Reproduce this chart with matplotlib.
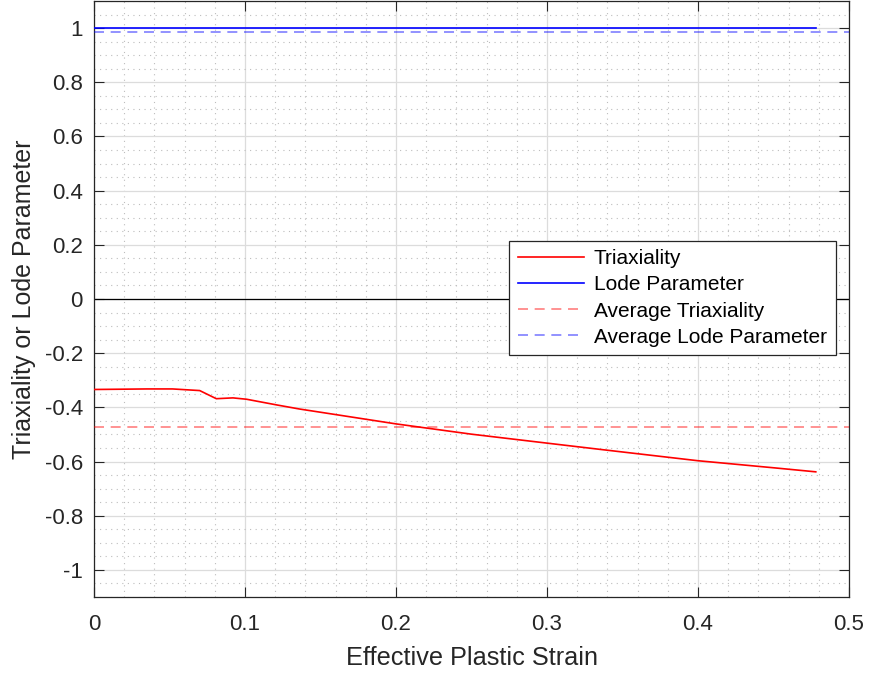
import matplotlib
matplotlib.use("Agg")
import matplotlib.pyplot as plt
from matplotlib.ticker import MultipleLocator

# Data
strain = [0.0, 0.035, 0.052, 0.070, 0.081, 0.092, 0.101, 0.121, 0.136, 0.15, 0.20,
          0.25, 0.30, 0.335, 0.40, 0.45, 0.478]
triaxiality = [-0.334, -0.332, -0.332, -0.338, -0.368, -0.365, -0.370, -0.391, -0.406,
               -0.418, -0.461, -0.499, -0.532, -0.555, -0.597, -0.623, -0.638]
lode = [1.0] * len(strain)
avg_triaxiality = -0.4736
avg_lode = 0.985

xlim = (0, 0.5)
ylim = (-1.1, 1.1)
xticks = [0, 0.1, 0.2, 0.3, 0.4, 0.5]
yticks = [-1, -0.8, -0.6, -0.4, -0.2, 0, 0.2, 0.4, 0.6, 0.8, 1]

plt.rcParams['font.family'] = ['Liberation Sans', 'DejaVu Sans']

fig = plt.figure(figsize=(8.71, 6.74), dpi=100)
ax = fig.add_axes([94/871, 77/674, 755/871, 596/674])

dash = (0, (6, 4))
ax.plot(strain, triaxiality, color='#FF0000', lw=1.2, label='Triaxiality', zorder=4)
ax.plot(strain, lode, color='#0000FF', lw=1.2, label='Lode Parameter', zorder=4)
ax.axhline(avg_triaxiality, color='#FF0000', alpha=0.5, lw=1.2, ls=dash,
           label='Average Triaxiality', zorder=3)
ax.axhline(avg_lode, color='#0000FF', alpha=0.5, lw=1.2, ls=dash,
           label='Average Lode Parameter', zorder=3)
ax.axhline(0, color='black', lw=0.9, zorder=2)

ax.set_xlim(*xlim)
ax.set_ylim(*ylim)
ax.set_xticks(xticks)
ax.set_xticklabels(['0', '0.1', '0.2', '0.3', '0.4', '0.5'])
ax.set_yticks(yticks)
ax.set_yticklabels(['-1', '-0.8', '-0.6', '-0.4', '-0.2', '0', '0.2', '0.4', '0.6', '0.8', '1'])
ax.xaxis.set_minor_locator(MultipleLocator(0.02))
ax.yaxis.set_minor_locator(MultipleLocator(0.05))

ax.grid(True, which='major', color='#DCDCDC', lw=0.9, ls='-', zorder=0)
ax.grid(True, which='minor', color='#BDBDBD', lw=0.8, ls=(0, (1, 4)), zorder=0)
ax.set_axisbelow(True)

ax.tick_params(which='major', direction='in', length=7, width=0.8, top=True, right=True,
               labelsize=16, colors='#262626')
ax.tick_params(axis='x', which='major', pad=12)
ax.tick_params(axis='y', which='major', pad=8)
ax.tick_params(which='minor', direction='in', length=0, top=True, right=True)
for s in ax.spines.values():
    s.set_color('#262626')
    s.set_linewidth(0.9)

ax.set_xlabel('Effective Plastic Strain', fontsize=18.2, color='#262626', labelpad=8)
ax.set_ylabel('Triaxiality or Lode Parameter', fontsize=18, color='#262626', labelpad=6)

leg = ax.legend(loc='upper left', bbox_to_anchor=(0.5497, 0.598), fontsize=15,
                frameon=True, fancybox=False, edgecolor='#262626', framealpha=1,
                borderpad=0.42, labelspacing=0.34, handlelength=3.2, handletextpad=0.45,
                borderaxespad=0)
leg.get_frame().set_linewidth(0.9)

fig.savefig('out.png', dpi=100)
